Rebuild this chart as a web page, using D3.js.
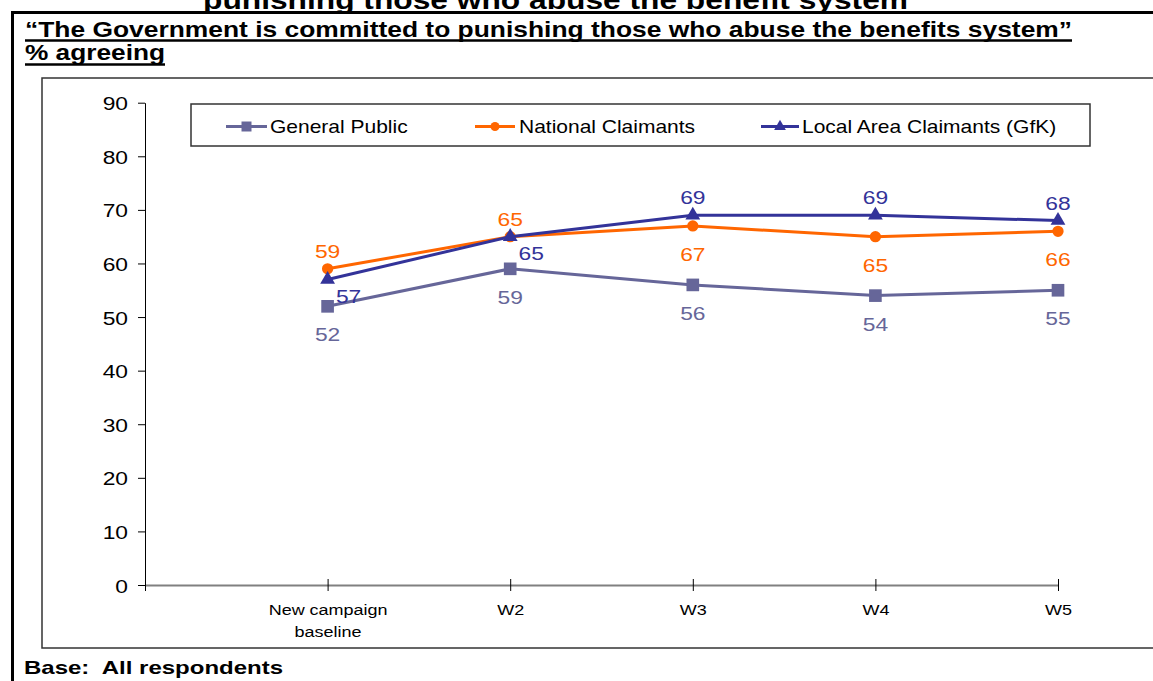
<!DOCTYPE html>
<html>
<head>
<meta charset="utf-8">
<script src="https://cdn.jsdelivr.net/npm/d3@7"></script>
<style>
  html, body { margin: 0; padding: 0; background: #fff; }
  svg { display: block; }
</style>
</head>
<body>
<svg id="chart" width="1153" height="681"></svg>
<script>
// ---- data ----
const categories = ["New campaign\nbaseline", "W2", "W3", "W4", "W5"];
const generalPublic = [52, 59, 56, 54, 55];
const nationalClaimants = [59, 65, 67, 65, 66];
const localAreaClaimants = [57, 65, 69, 69, 68];
const yTicks = [0, 10, 20, 30, 40, 50, 60, 70, 80, 90];
const seriesNames = ["General Public", "National Claimants", "Local Area Claimants (GfK)"];

// where each value label sits relative to its point
const gpLabelPlace = ["below", "below", "below", "below", "below"];
const ncLabelPlace = ["above", "above", "below", "below", "below"];
const lacLabelPlace = ["right", "right", "above", "above", "above"];

// ---- setup ----
const svg = d3.select("#chart");
const SX = 1.2;               // all text is drawn horizontally widened
const chartFont = "'Liberation Sans', Arial, sans-serif";

const series = [
  { name: seriesNames[0], values: generalPublic, color: "#666699", symbol: d3.symbolSquare, size: 160, legendSize: 100, place: gpLabelPlace },
  { name: seriesNames[1], values: nationalClaimants, color: "#FF6600", symbol: d3.symbolCircle, size: 100, legendSize: 64, place: ncLabelPlace },
  { name: seriesNames[2], values: localAreaClaimants, color: "#333399", symbol: d3.symbolTriangle, size: 95, legendSize: 60, place: lacLabelPlace }
];

// stretched text helper: anchor point (x, y) is the baseline
function wideText(parent, x, y, str, opt = {}) {
  return parent.append("text")
    .attr("transform", `translate(${x},${y}) scale(${SX},1)`)
    .attr("text-anchor", opt.anchor || "start")
    .attr("font-family", chartFont)
    .attr("font-size", opt.size || 19)
    .attr("fill", opt.color || "#000")
    .text(str);
}

// bold heading text fitted to a given width
function boldText(x, y, str, size, width) {
  return svg.append("text")
    .attr("x", x).attr("y", y)
    .attr("font-family", chartFont).attr("font-weight", "bold")
    .attr("font-size", size)
    .style("white-space", "pre")
    .attr("textLength", width).attr("lengthAdjust", "spacingAndGlyphs")
    .text(str);
}

// ---- page frame and headings ----
boldText(203, 9, "punishing those who abuse the benefit system", 26.5, 705);

svg.append("line").attr("x1", 11).attr("x2", 1153).attr("y1", 12.5).attr("y2", 12.5)
  .attr("stroke", "#000").attr("stroke-width", 3);
svg.append("line").attr("x1", 12.5).attr("x2", 12.5).attr("y1", 11).attr("y2", 681)
  .attr("stroke", "#000").attr("stroke-width", 3);

const titleLines = [
  { text: "\u201CThe Government is committed to punishing those who abuse the benefits system\u201D", y: 37, w: 1047, uy: 40.5 },
  { text: "% agreeing", y: 60, w: 140, uy: 64.5 }
];
titleLines.forEach(t => {
  boldText(25, t.y, t.text, 22, t.w);
  svg.append("line").attr("x1", 25).attr("x2", 25 + t.w).attr("y1", t.uy).attr("y2", t.uy)
    .attr("stroke", "#000").attr("stroke-width", 2.5);
});

boldText(24, 674, "Base:  All respondents", 19, 259);

// chart area box
svg.append("rect")
  .attr("x", 42).attr("y", 78).attr("width", 1200).attr("height", 570)
  .attr("fill", "none").attr("stroke", "#333").attr("stroke-width", 1.5);

// ---- scales ----
const y = d3.scaleLinear().domain([0, 90]).range([585, 102.7]);
const x = d3.scalePoint().domain(["", ...categories]).range([145, 1058]);

// ---- y axis ----
const yAxis = svg.append("g")
  .attr("transform", "translate(145,0)")
  .call(d3.axisLeft(y).tickValues(yTicks).tickSize(7).tickSizeOuter(0));
yAxis.select(".domain").attr("stroke", "#000").attr("stroke-width", 1);
yAxis.selectAll(".tick line").attr("stroke", "#000");
yAxis.selectAll(".tick text")
  .attr("x", null).attr("dy", null)
  .attr("transform", `translate(-17,7) scale(${SX},1)`)
  .attr("font-family", chartFont).attr("font-size", 19).attr("fill", "#000");

// ---- x axis ----
const xAxis = svg.append("g")
  .attr("transform", `translate(0,${y(0)})`)
  .call(d3.axisBottom(x).tickSize(6).tickSizeOuter(0).tickFormat(() => ""));
xAxis.select(".domain").attr("stroke", "#808080").attr("stroke-width", 2);
xAxis.selectAll(".tick line").attr("y1", -6).attr("y2", 6).attr("stroke", "#000");
xAxis.selectAll(".tick text").remove();
xAxis.selectAll(".tick").each(function(d) {
  if (!d) return;
  const lines = d.split("\n");
  lines.forEach((ln, i) => {
    d3.select(this).append("text")
      .attr("transform", `translate(0,${30 + i * 22}) scale(${SX},1)`)
      .attr("text-anchor", "middle")
      .attr("font-family", chartFont).attr("font-size", 15)
      .attr("fill", "#000")
      .text(ln);
  });
});

// ---- legend ----
const legend = svg.append("g");
legend.append("rect")
  .attr("x", 191).attr("y", 104).attr("width", 899).attr("height", 42)
  .attr("fill", "#fff").attr("stroke", "#333").attr("stroke-width", 1.5);
const legendItems = [
  { x0: 226, x1: 267, tx: 270 },
  { x0: 475, x1: 515, tx: 519 },
  { x0: 761, x1: 799, tx: 802 }
];
series.forEach((s, i) => {
  const it = legendItems[i];
  const ly = 126.5;
  legend.append("line").attr("x1", it.x0).attr("x2", it.x1).attr("y1", ly).attr("y2", ly)
    .attr("stroke", s.color).attr("stroke-width", 3);
  legend.append("path")
    .attr("d", d3.symbol().type(s.symbol).size(s.legendSize)())
    .attr("transform", `translate(${(it.x0 + it.x1) / 2},${ly})`)
    .attr("fill", s.color);
  wideText(legend, it.tx, ly + 6.5, s.name, { size: 17.5 });
});

// ---- series ----
const line = d3.line()
  .x((d, i) => x(categories[i]))
  .y(d => y(d));

series.forEach(s => {
  const g = svg.append("g");
  g.append("path")
    .datum(s.values)
    .attr("d", line)
    .attr("fill", "none")
    .attr("stroke", s.color)
    .attr("stroke-width", 3)
    .attr("stroke-linejoin", "round");
  g.selectAll("path.marker")
    .data(s.values)
    .join("path")
    .attr("class", "marker")
    .attr("d", d3.symbol().type(s.symbol).size(s.size)())
    .attr("transform", (d, i) => `translate(${x(categories[i])},${y(d)})`)
    .attr("fill", s.color);
});

// value labels on top of everything
series.forEach(s => {
  const g = svg.append("g");
  s.values.forEach((v, i) => {
    const px = x(categories[i]);
    const py = y(v);
    let cx = px, cy = py;
    if (s.place[i] === "above") cy = py - 18;
    else if (s.place[i] === "below") cy = py + 28;
    else if (s.place[i] === "right") { cx = px + 21; cy = py + 16; }
    wideText(g, cx, cy + 7, String(v), { anchor: "middle", size: 19, color: s.color });
  });
});
</script>
</body>
</html>
